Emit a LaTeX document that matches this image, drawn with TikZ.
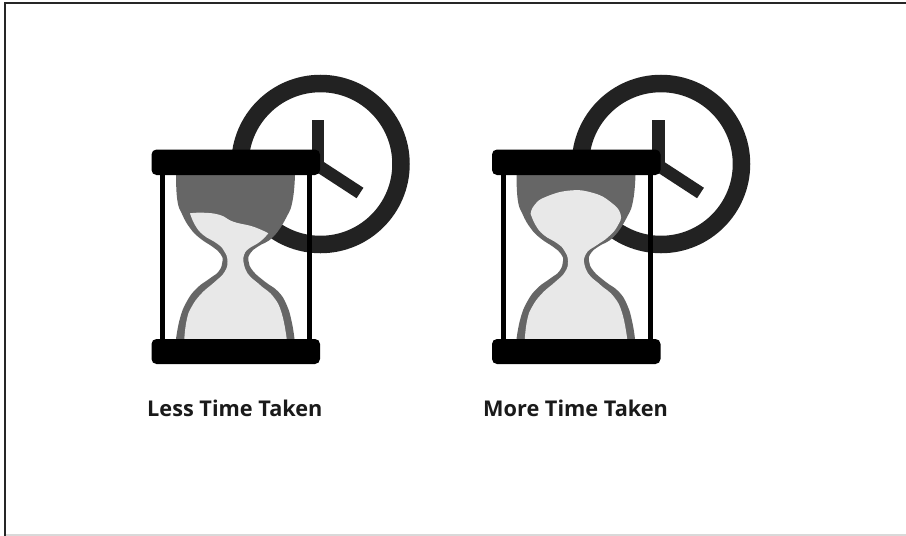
\documentclass[tikz,border=0pt]{standalone}
\usepackage{fontspec}
\setmainfont{Open Sans}
\usepackage{xcolor}
\definecolor{hgInk}{HTML}{000000}
\definecolor{hgRing}{HTML}{222222}
\definecolor{hgGlass}{HTML}{666666}
\definecolor{hgSand}{HTML}{E8E8E8}
\definecolor{hgText}{HTML}{1A1A1A}
\tikzset{
  ring/.style={draw=hgRing,line width=17.5pt},
  hand/.style={draw=hgRing,line width=12.5pt},
  bar/.style={fill=hgInk,rounded corners=5pt},
  post/.style={draw=hgInk,line width=5pt},
  glass/.style={fill=hgGlass},
  sand/.style={fill=hgSand},
  timelbl/.style={font=\fontsize{21.7}{24}\selectfont\bfseries,text=hgText,inner sep=0pt,anchor=base west},
  rim/.style={draw=black!85,line width=2.4pt},
}
% #1 is the x shift, #2 the top of the sand as far as the neck
\newcommand{\drawTimer}[2]{
  \begin{scope}[xshift=#1pt]
    \draw[ring] (320.5,164) circle (80.5);
    \draw[hand] (318,120) -- (318,168);
    \draw[hand] (314,163) -- (360,193);
    % glass
    \path[glass] plot[smooth,tension=.8] coordinates {(176,175) (177.3,200) (182,214) (190,228) (200,238.3)
        (213.3,247.3) (220.5,254) (222.5,261) (219,271) (210,278.3) (196.7,288.3) (186.7,301.7)
        (180,318.3) (176,339)}
      -- plot[smooth,tension=.8] coordinates {(294.5,339) (291.7,321.7) (286.7,305) (278.3,291.7) (265,281.7)
        (253,271) (248.5,261) (250.5,253) (258,246.5) (273.3,236.7) (286.7,216.7) (292.7,200) (295,175)}
      -- cycle;
    % sand
    \path[sand] #2
      -- plot[smooth,tension=.8] coordinates {(243.3,260) (247.3,273) (260,285) (273.3,296.7) (281.7,313.3) (286.7,339)}
      -- plot[smooth,tension=.8] coordinates {(184.3,339) (186.7,320) (191.7,306.7) (201.7,293.3) (215,281.7)
        (224.5,272) (227.5,261) (223.8,250.5) (216.7,243.3) (203.3,235) (195,225) (190,213.3)}
      -- cycle;
    \draw[post] (162.5,175) -- (162.5,339);
    \draw[post] (309.5,175) -- (309.5,339);
    \path[bar] (151.5,149.5) rectangle (320,175);
    \path[bar] (151.5,339) rectangle (320,364);
  \end{scope}
}

\begin{document}
\begin{tikzpicture}[x=1pt,y=-1pt]
  \useasboundingbox (0,0) rectangle (906,536);
  \path[fill=white] (0,0) rectangle (906,536);
  \draw[draw=black!15,line width=1.5pt] (5,535) -- (906,535);
  \draw[rim] (906,3) -- (5,3) -- (5,536);
  \drawTimer{0}{plot[smooth,tension=.8] coordinates {(190,213.3) (203.3,212.7) (220,215) (233.3,221.7) (253.3,226.7) (268.3,233.3)}
      -- plot[smooth,tension=.8] coordinates {(268.3,233.3) (260,241.7) (248.3,249) (244,255) (243.3,260)}}
  \drawTimer{340.5}{plot[smooth,tension=.8] coordinates {(190.2,213.3) (194,205) (205,197) (229.5,190.5) (252.8,193)
      (270,202) (280,214) (277,226) (268,236.7) (256.5,245) (247,251.7) (243.3,260)}}
  \node[timelbl] (less) at (147,416.5) {Less Time Taken};
  \node[timelbl] (more) at (483,416.5) {More Time Taken};
\end{tikzpicture}
\end{document}
